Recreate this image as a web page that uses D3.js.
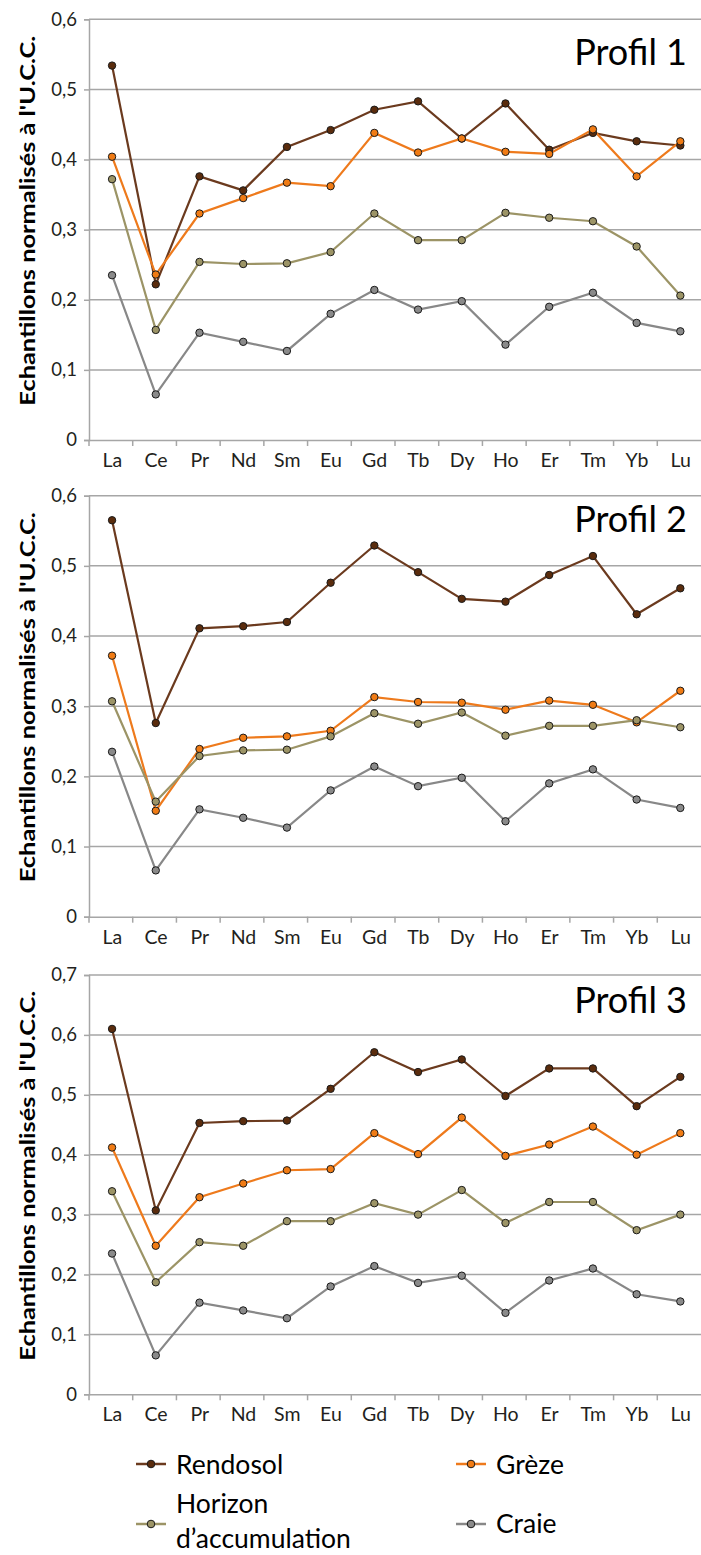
<!DOCTYPE html>
<html><head><meta charset="utf-8">
<script src="https://cdn.jsdelivr.net/npm/d3@7"></script>
<style>body{margin:0;background:#fff}svg{display:block}text{font-family:Lato,"Open Sans",sans-serif}</style>
</head><body>
<svg id="c" width="701" height="1555"></svg>
<script>
const categories = ["La","Ce","Pr","Nd","Sm","Eu","Gd","Tb","Dy","Ho","Er","Tm","Yb","Lu"];
const seriesNames = ["Rendosol","Grèze","Horizon d’accumulation","Craie"];
const panelTitles = ["Profil 1","Profil 2","Profil 3"];
const yTicks12 = [0,0.1,0.2,0.3,0.4,0.5,0.6];
const yTicks3 = [0,0.1,0.2,0.3,0.4,0.5,0.6,0.7];

// Profil 1
const p1Rendosol = [0.534,0.222,0.376,0.356,0.418,0.442,0.471,0.483,0.430,0.480,0.414,0.438,0.426,0.420];
const p1Greze    = [0.404,0.236,0.323,0.345,0.367,0.362,0.438,0.410,0.430,0.411,0.408,0.443,0.376,0.426];
const p1Horizon  = [0.372,0.157,0.254,0.251,0.252,0.268,0.323,0.285,0.285,0.324,0.317,0.312,0.276,0.206];
const p1Craie    = [0.235,0.065,0.153,0.140,0.127,0.180,0.214,0.186,0.198,0.136,0.190,0.210,0.167,0.155];
// Profil 2
const p2Rendosol = [0.565,0.276,0.411,0.414,0.420,0.476,0.529,0.491,0.453,0.449,0.487,0.514,0.431,0.468];
const p2Greze    = [0.372,0.151,0.239,0.255,0.257,0.265,0.313,0.306,0.305,0.295,0.308,0.302,0.277,0.322];
const p2Horizon  = [0.307,0.164,0.229,0.237,0.238,0.257,0.290,0.275,0.291,0.258,0.272,0.272,0.280,0.270];
const p2Craie    = [0.235,0.066,0.153,0.141,0.127,0.180,0.214,0.186,0.198,0.136,0.190,0.210,0.167,0.155];
// Profil 3
const p3Rendosol = [0.610,0.307,0.453,0.456,0.457,0.510,0.571,0.538,0.559,0.498,0.544,0.544,0.481,0.530];
const p3Greze    = [0.412,0.248,0.329,0.352,0.374,0.376,0.436,0.401,0.462,0.398,0.417,0.447,0.400,0.436];
const p3Horizon  = [0.339,0.187,0.254,0.248,0.289,0.289,0.319,0.300,0.341,0.286,0.321,0.321,0.274,0.300];
const p3Craie    = [0.235,0.065,0.153,0.140,0.127,0.180,0.214,0.186,0.198,0.136,0.190,0.210,0.167,0.155];

const lineColors = ["#6b3a1e","#ee7a1c","#9c9466","#888888"];
const markerColors = ["#5a2c0d","#f07b14","#9c9466","#8a8a8a"];

const panels = [
  {title:panelTitles[0], top:19.3, bottom:440, ymax:0.6, ticks:yTicks12, data:[p1Rendosol,p1Greze,p1Horizon,p1Craie], titleY:65},
  {title:panelTitles[1], top:495.7, bottom:916.7, ymax:0.6, ticks:yTicks12, data:[p2Rendosol,p2Greze,p2Horizon,p2Craie], titleY:531.5},
  {title:panelTitles[2], top:975, bottom:1394.3, ymax:0.7, ticks:yTicks3, data:[p3Rendosol,p3Greze,p3Horizon,p3Craie], titleY:1013}
];

const svg = d3.select("#c");
const x = d3.scaleBand().domain(categories).range([89,701]).padding(0);
const cx = c => x(c) + x.bandwidth()/2 + 1.2;
const fmt = d => d===0 ? "0" : d3.format(".1f")(d).replace(".",",");
const gridColor = "#a6a6a6";

panels.forEach(p => {
  const y = d3.scaleLinear().domain([0,p.ymax]).range([p.bottom,p.top]);
  const g = svg.append("g");
  g.selectAll("line.grid").data(p.ticks.filter(t=>t>0)).join("line")
    .attr("x1",89).attr("x2",701).attr("y1",d=>y(d)).attr("y2",d=>y(d))
    .attr("stroke",gridColor).attr("stroke-width",1.5);
  const ya = g.append("g").attr("transform","translate(89,0)")
    .call(d3.axisLeft(y).tickValues(p.ticks).tickFormat(fmt).tickSize(5).tickPadding(7));
  ya.select(".domain").attr("stroke",gridColor).attr("stroke-width",1.5);
  ya.selectAll(".tick line").attr("stroke",gridColor).attr("stroke-width",1.5);
  ya.selectAll(".tick text").attr("font-size",18.5).attr("fill","#231f20").attr("font-family","Lato,sans-serif");
  const xa = g.append("g").attr("transform",`translate(0,${p.bottom})`)
    .call(d3.axisBottom(x).tickSize(0).tickPadding(13));
  xa.select(".domain").attr("stroke",gridColor).attr("stroke-width",1.5);
  xa.selectAll(".tick text").attr("font-size",19.5).attr("fill","#231f20").attr("font-family","Lato,sans-serif")
    .attr("dx",1.5);
  g.selectAll("line.xt").data(categories).join("line")
    .attr("x1",d=>x(d)).attr("x2",d=>x(d)).attr("y1",p.bottom).attr("y2",p.bottom+6)
    .attr("stroke",gridColor).attr("stroke-width",1.5);
  g.append("text")
    .attr("transform",`translate(35,${(p.top+p.bottom)/2-9}) rotate(-90)`)
    .attr("text-anchor","middle").attr("font-weight","bold").attr("font-size",20)
    .attr("font-family","'Open Sans',sans-serif")
    .attr("textLength",370).attr("lengthAdjust","spacingAndGlyphs")
    .attr("fill","#000").text("Echantillons normalisés à l'U.C.C.");
  g.append("text").attr("x",687).attr("y",p.titleY).attr("text-anchor","end")
    .attr("font-size",36).attr("fill","#000").text(p.title);
  const line = d3.line().x((d,i)=>cx(categories[i])).y(d=>y(d));
  p.data.forEach((s,si) => {
    g.append("path").datum(s).attr("d",line).attr("fill","none")
      .attr("stroke",lineColors[si]).attr("stroke-width",2.2);
  });
  p.data.forEach((s,si) => {
    g.selectAll(null).data(s).join("circle")
      .attr("cx",(d,i)=>cx(categories[i])).attr("cy",d=>y(d))
      .attr("r",3.7).attr("fill",markerColors[si]).attr("stroke","#1a1a1a").attr("stroke-width",1);
  });
});

const legendItems = [
  {i:0, mx:151, my:1464, lines:["Rendosol"], ty:[1474]},
  {i:1, mx:471, my:1464, lines:["Grèze"], ty:[1474]},
  {i:2, mx:151, my:1524, lines:["Horizon","d’accumulation"], ty:[1513,1548]},
  {i:3, mx:471, my:1524, lines:["Craie"], ty:[1533]}
];
const lg = svg.append("g");
legendItems.forEach(it => {
  lg.append("line").attr("x1",it.mx-15).attr("x2",it.mx+15).attr("y1",it.my).attr("y2",it.my)
    .attr("stroke",lineColors[it.i]).attr("stroke-width",2.5);
  lg.append("circle").attr("cx",it.mx).attr("cy",it.my).attr("r",3.8)
    .attr("fill",markerColors[it.i]).attr("stroke","#1a1a1a").attr("stroke-width",1);
  it.lines.forEach((t,k)=>{
    lg.append("text").attr("x",it.mx+25).attr("y",it.ty[k]).attr("font-size",26.5).attr("fill","#000").text(t);
  });
});
</script>
</body></html>
